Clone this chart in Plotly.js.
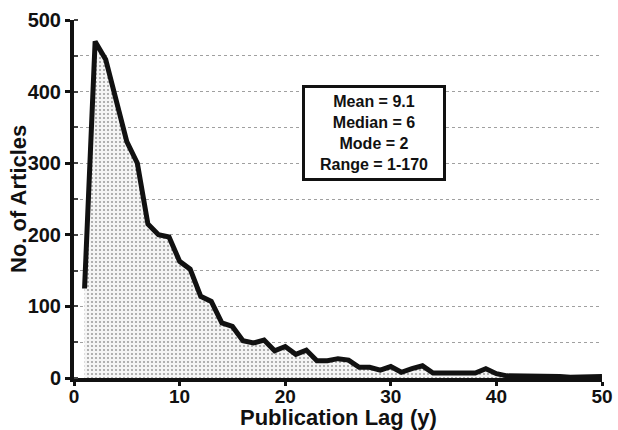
<!DOCTYPE html>
<html>
<head>
<meta charset="utf-8">
<script src="https://cdn.plot.ly/plotly-3.0.1.min.js"></script>
<style>html,body{margin:0;padding:0;background:#fff}#chart{width:618px;height:430px}</style>
</head>
<body>
<div id="chart"></div>
<script>
// Publication lag (years)
var lagYears = [1,2,3,4,5,6,7,8,9,10,11,12,13,14,15,16,17,18,19,20,21,22,23,24,25,26,27,28,29,30,31,32,33,34,35,36,37,38,39,40,41,42,43,44,45,46,47,48,49,50];
// Number of articles for each lag
var articleCounts = [125,470,445,390,330,300,215,200,197,163,152,114,107,77,72,52,49,53,38,44,33,39,24,24,27,25,15,15,11,16,8,13,17,7,7,8,7,7,13,6,3,3,2,2,2,2,1,1,1,2];
var statsLines = ["Mean = 9.1","Median = 6","Mode = 2","Range = 1-170"];
var xTickVals = [0,10,20,30,40,50];
var yTickVals = [0,100,200,300,400,500];
var xTitle = "Publication Lag (y)";
var yTitle = "No. of Articles";

var fnt = "Liberation Sans, Arial, Helvetica, sans-serif";

var trace = {
  x: lagYears,
  y: articleCounts,
  type: "scatter",
  mode: "lines",
  line: {color: "#111", width: 5},
  fill: "tozeroy",
  fillcolor: "rgba(0,0,0,0)",
  fillpattern: {shape: ".", fgcolor: "#a0a0a0", bgcolor: "#f5f5f5", size: 4, solidity: 0.22},
  hoverinfo: "x+y"
};

var titleFont = {family: fnt, size: 22, color: "#111", weight: "bold"};

var layout = {
  width: 618, height: 430,
  margin: {l: 74, r: 16, t: 20, b: 52},
  paper_bgcolor: "#fff", plot_bgcolor: "#fff",
  showlegend: false,
  xaxis: {
    range: [0, 50], tickvals: xTickVals, ticks: "outside", ticklen: 4, tickwidth: 3, tickcolor: "#111",
    showline: true, linecolor: "#111", linewidth: 4, showgrid: false, zeroline: false,
    ticklabelstandoff: -6,
    tickfont: {family: fnt, size: 19, color: "#111", weight: "bold"}
  },
  yaxis: {
    range: [0, 500], tickvals: yTickVals, ticks: "outside", ticklen: 5, tickwidth: 3, tickcolor: "#111",
    showline: true, linecolor: "#111", linewidth: 4, showgrid: false, zeroline: false,
    tickfont: {family: fnt, size: 20, color: "#111", weight: "bold"},
    minor: {dtick: 50, tick0: 0, ticks: "inside", ticklen: 4, tickwidth: 2, tickcolor: "#444", showgrid: true, gridcolor: "#a0a0a0", griddash: "dot", gridwidth: 1}
  },
  annotations: [{
    x: 28.4, y: 342, xref: "x", yref: "y",
    text: statsLines.join("<br>"),
    showarrow: false,
    font: {family: fnt, size: 16, color: "#111", weight: "bold"},
    align: "center", valign: "middle",
    width: 132, height: 84,
    bgcolor: "#fff", bordercolor: "#111", borderwidth: 3, borderpad: 3
  }, {
    x: 0.5, y: 0, xref: "paper", yref: "paper",
    xanchor: "center", yanchor: "bottom", yshift: -53,
    text: xTitle, showarrow: false, font: titleFont, borderpad: 0
  }, {
    x: 0, y: 0.5, xref: "paper", yref: "paper",
    xanchor: "center", yanchor: "middle", xshift: -56,
    textangle: -90,
    text: yTitle, showarrow: false, font: titleFont, borderpad: 0
  }]
};

Plotly.newPlot("chart", [trace], layout, {displayModeBar: false, staticPlot: true});
</script>
</body>
</html>
